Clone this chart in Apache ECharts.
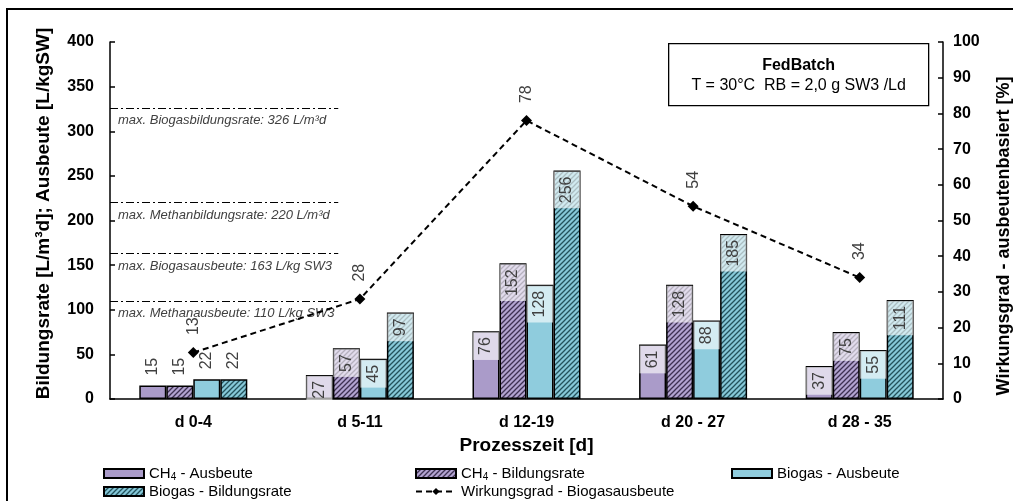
<!DOCTYPE html>
<html>
<head>
<meta charset="utf-8">
<script src="https://cdn.jsdelivr.net/npm/echarts@6/dist/echarts.min.js"></script>
<style>
  html, body { margin: 0; padding: 0; background: #fff; }
  #chart { width: 1013px; height: 501px; }
</style>
</head>
<body>
<div id="chart"></div>
<script>
// Process phases (days)
const categories = ['d 0-4', 'd 5-11', 'd 12-19', 'd 20 - 27', 'd 28 - 35'];

// Yields [L/kgSW] and formation rates [L/m³d]
const ch4Ausbeute = [15, 27, 76, 61, 37];
const ch4Bildungsrate = [15, 57, 152, 128, 75];
const biogasAusbeute = [22, 45, 128, 88, 55];
const biogasBildungsrate = [22, 97, 256, 185, 111];

// Efficiency based on biogas yield [%]
const wirkungsgrad = [13, 28, 78, 54, 34];

// Reference maxima (horizontal dash-dot lines)
const refValues = [326, 220, 163, 110];
const refTexts = [
  'max. Biogasbildungsrate: 326 L/m³d',
  'max. Methanbildungsrate: 220 L/m³d',
  'max. Biogasausbeute: 163 L/kg SW3',
  'max. Methanausbeute: 110 L/kg SW3'
];
const refLineEnd = 1.37; // extent along the phase axis (in phases)

const FONT = '"Liberation Sans", Arial, sans-serif';
const LABEL_GREY = '#404040';

// Diagonal hatch fill
function hatch(base, stroke) {
  const c = document.createElement('canvas');
  c.width = 5; c.height = 5;
  const g = c.getContext('2d');
  g.fillStyle = base;
  g.fillRect(0, 0, 5, 5);
  g.strokeStyle = stroke;
  g.lineWidth = 1.3;
  g.beginPath();
  g.moveTo(-1, 6); g.lineTo(6, -1);
  g.moveTo(-1, 1); g.lineTo(1, -1);
  g.moveTo(4, 6); g.lineTo(6, 4);
  g.stroke();
  return c;
}

const purple = '#AA9BC9';
const teal = '#8FCCDD';
const purpleHatch = { image: hatch('#B2A3D0', '#3E3152'), repeat: 'repeat' };
const tealHatch = { image: hatch('#86C8D8', '#24525C'), repeat: 'repeat' };

// Value label rotated inside the bar top; short bars get it above instead
function barData(values) {
  return values.map(v => v < 25
    ? { value: v, label: { position: 'top', align: 'left', backgroundColor: 'transparent', padding: 0, distance: 10 } }
    : v);
}

const barLabel = {
  show: true,
  position: 'insideTop',
  rotate: 90,
  align: 'right',
  verticalAlign: 'middle',
  distance: 1,
  color: LABEL_GREY,
  fontFamily: FONT,
  fontSize: 16,
  lineHeight: 16,
  backgroundColor: 'rgba(255,255,255,0.62)',
  padding: [5, 5]
};

function barSeries(name, values, color) {
  return {
    name: name,
    type: 'bar',
    data: barData(values),
    barWidth: 27,
    barGap: '0%',
    itemStyle: { color: color, borderColor: '#000', borderWidth: 1.5 },
    label: barLabel
  };
}

const richSub = {
  sub: { fontSize: 10, fontFamily: FONT, verticalAlign: 'bottom', padding: [7, 0, 0, 0], color: '#000' }
};
function legendFmt(n) { return n.replace('CH4', 'CH{sub|4}'); }

function legendAt(name, left, top, icon) {
  return {
    data: [{ name: name, icon: icon }],
    left: left,
    top: top,
    padding: 0,
    itemWidth: 40,
    itemHeight: 9,
    itemGap: 0,
    selectedMode: false,
    formatter: legendFmt,
    textStyle: { fontFamily: FONT, fontSize: 15, color: '#000', rich: richSub }
  };
}

function nameStyle(size, padding) {
  return { fontFamily: FONT, fontSize: size, fontWeight: 'bold', color: '#000', padding: padding };
}

const chart = echarts.init(document.getElementById('chart'), null, { renderer: 'canvas' });

const refLineData = refValues.map((v, i) => [
  { coord: [0, v], label: { formatter: refTexts[i] } },
  { coord: [refLineEnd, v] }
]);

chart.setOption({
  animation: false,
  backgroundColor: '#fff',
  grid: { left: 110, right: 70, top: 42, bottom: 102, containLabel: false, outerBoundsMode: 'none' },
  legend: [
    legendAt('CH4 - Ausbeute', 103, 466, 'rect'),
    legendAt('CH4 - Bildungsrate', 415, 466, 'rect'),
    legendAt('Biogas - Ausbeute', 731, 466, 'rect'),
    legendAt('Biogas - Bildungsrate', 103, 484, 'rect'),
    legendAt('Wirkungsgrad - Biogasausbeute', 415, 484)
  ],
  xAxis: [
    {
      type: 'category',
      data: categories,
      name: 'Prozesszeit [d]',
      nameLocation: 'middle',
      nameGap: 33,
      nameTextStyle: nameStyle(19, 0),
      axisLine: { lineStyle: { color: '#000', width: 1.5 } },
      axisTick: { inside: true, length: 5, lineStyle: { color: '#000', width: 1.5 } },
      axisLabel: { fontFamily: FONT, fontSize: 16, fontWeight: 'bold', color: '#000', margin: 16 }
    },
    { type: 'value', min: 0, max: 5, show: false }
  ],
  yAxis: [
    {
      type: 'value',
      min: 0, max: 400, interval: 50,
      name: 'Bildungsrate [L/m³d]; Ausbeute [L/kgSW]',
      nameLocation: 'middle',
      nameRotate: 90,
      nameGap: 57,
      nameTextStyle: nameStyle(19, [0, 0, 0, 14]),
      axisLine: { show: true, lineStyle: { color: '#000', width: 1.5 } },
      axisTick: { show: true, inside: true, length: 5, lineStyle: { color: '#000', width: 1.5 } },
      axisLabel: { fontFamily: FONT, fontSize: 16, fontWeight: 'bold', color: '#000', margin: 16 },
      splitLine: { show: false }
    },
    {
      type: 'value',
      position: 'right',
      min: 0, max: 100, interval: 10,
      name: 'Wirkungsgrad - ausbeutenbasiert [%]',
      nameLocation: 'middle',
      nameRotate: 90,
      nameGap: 52,
      nameTextStyle: nameStyle(18, [0, 31, 0, 0]),
      axisLine: { show: true, lineStyle: { color: '#000', width: 1.5 } },
      axisTick: { show: true, inside: true, length: 5, lineStyle: { color: '#000', width: 1.5 } },
      axisLabel: { fontFamily: FONT, fontSize: 16, fontWeight: 'bold', color: '#000', margin: 10 },
      splitLine: { show: false }
    }
  ],
  series: [
    barSeries('CH4 - Ausbeute', ch4Ausbeute, purple),
    barSeries('CH4 - Bildungsrate', ch4Bildungsrate, purpleHatch),
    barSeries('Biogas - Ausbeute', biogasAusbeute, teal),
    barSeries('Biogas - Bildungsrate', biogasBildungsrate, tealHatch),
    {
      name: 'Wirkungsgrad - Biogasausbeute',
      type: 'line',
      yAxisIndex: 1,
      data: wirkungsgrad,
      symbol: 'diamond',
      symbolSize: 11,
      itemStyle: { color: '#000' },
      lineStyle: { color: '#000', width: 2, type: [6, 4] },
      label: {
        show: true,
        position: 'top',
        rotate: 90,
        align: 'left',
        verticalAlign: 'middle',
        distance: 12,
        color: LABEL_GREY,
        fontFamily: FONT,
        fontSize: 16
      },
      z: 5
    },
    {
      name: 'refs',
      type: 'line',
      xAxisIndex: 1,
      yAxisIndex: 0,
      data: [],
      silent: true,
      markLine: {
        silent: true,
        symbol: ['none', 'none'],
        animation: false,
        lineStyle: { color: '#000', width: 1.2, type: [8, 3, 2, 3] },
        label: {
          show: true,
          position: 'insideStartBottom',
          distance: [8, 6],
          color: LABEL_GREY,
          fontFamily: FONT,
          fontSize: 13,
          fontStyle: 'italic'
        },
        data: refLineData
      }
    }
  ],
  graphic: [
    {
      type: 'rect',
      shape: { x: 7, y: 9, width: 1100, height: 600 },
      style: { fill: 'none', stroke: '#000', lineWidth: 2 },
      silent: true
    },
    {
      type: 'group',
      left: 668,
      top: 43,
      children: [
        {
          type: 'rect',
          shape: { x: 0, y: 0, width: 260, height: 62 },
          style: { fill: '#fff', stroke: '#000', lineWidth: 1.3 }
        },
        {
          type: 'text',
          x: 130, y: 22,
          style: { text: 'FedBatch', fill: '#000', font: 'bold 16px ' + FONT, textAlign: 'center', textVerticalAlign: 'middle' }
        },
        {
          type: 'text',
          x: 130, y: 42,
          style: { text: 'T = 30°C  RB = 2,0 g SW3 /Ld', fill: '#000', font: '16px ' + FONT, textAlign: 'center', textVerticalAlign: 'middle' }
        }
      ]
    }
  ]
});
</script>
</body>
</html>
